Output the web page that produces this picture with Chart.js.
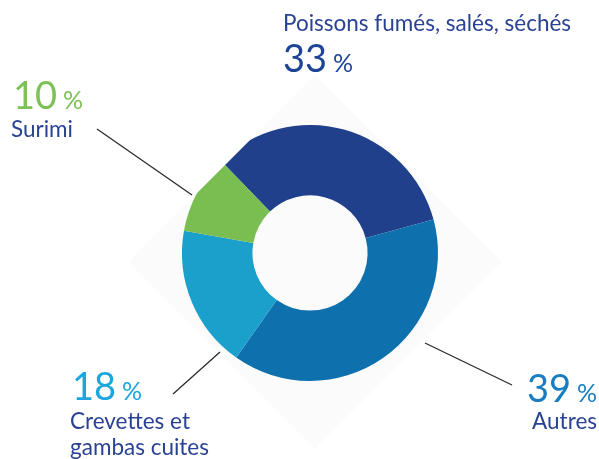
<!DOCTYPE html>
<html lang="fr">
<head>
<meta charset="utf-8">
<title>Répartition</title>
<script src="https://cdn.jsdelivr.net/npm/chart.js@4/dist/chart.umd.min.js"></script>
<style>
  html, body { margin: 0; padding: 0; background: #ffffff; }
  #wrap { position: relative; width: 599px; height: 459px; }
</style>
</head>
<body>
<div id="wrap"><canvas id="chart"></canvas></div>
<script>
// Categories and shares (%)
const categories = ['Poissons fumés, salés, séchés', 'Autres', 'Crevettes et gambas cuites', 'Surimi'];
const values = [33, 39, 18, 10];
const sliceColors = ['#21408b', '#0e70ad', '#1b9fcb', '#7abe52'];
const valueColors = ['#1d4496', '#1a7dc1', '#1ba6de', '#7dc257'];
// Category names broken into drawn lines
const nameLines = [['Poissons fumés, salés, séchés'], ['Autres'], ['Crevettes et', 'gambas cuites'], ['Surimi']];

const FONT = 'Lato, "Open Sans", sans-serif';
const NAME_COLOR = '#2a4293';

// Label blocks: anchor x, alignment, baseline of the value and of each name line
const labelLayout = [
  { x: 283, align: 'left',  valueY: 72,  nameY: [31] },
  { x: 597, align: 'right', valueY: 402, nameY: [429] },
  { x: 72,  align: 'left',  valueY: 400, nameY: [429, 455], nameX: 70 },
  { x: 13,  align: 'left',  valueY: 109, nameY: [137],      nameX: 11 }
];
// Leader lines, offsets from the doughnut centre: [x1, y1, x2, y2]
const leaders = [
  null,
  [115, 90, 202, 132],
  [-90, 99, -137, 141],
  [-118, -58, -213, -124]
];

const diamondPlugin = {
  id: 'diamond',
  beforeDatasetsDraw(chart) {
    const arc = chart.getDatasetMeta(0).data[0];
    const cx = arc.x + 5, cy = arc.y + 9, h = arc.outerRadius * 1.46;
    const ctx = chart.ctx;
    ctx.save();
    ctx.beginPath();
    ctx.moveTo(cx, cy - h);
    ctx.lineTo(cx + h, cy);
    ctx.lineTo(cx, cy + h);
    ctx.lineTo(cx - h, cy);
    ctx.closePath();
    ctx.fillStyle = '#fbfbfb';
    ctx.fill();
    ctx.clip();
  },
  afterDatasetsDraw(chart) {
    chart.ctx.restore();
  }
};

const labelPlugin = {
  id: 'labels',
  afterDraw(chart) {
    const ctx = chart.ctx;
    const arc = chart.getDatasetMeta(0).data[0];
    const cx = arc.x, cy = arc.y;
    ctx.save();
    // leader lines
    ctx.strokeStyle = '#2b2b2b';
    ctx.lineWidth = 1.3;
    leaders.forEach(l => {
      if (!l) return;
      ctx.beginPath();
      ctx.moveTo(cx + l[0], cy + l[1]);
      ctx.lineTo(cx + l[2], cy + l[3]);
      ctx.stroke();
    });
    ctx.textBaseline = 'alphabetic';
    labelLayout.forEach((L, i) => {
      // value "NN %"
      const num = String(values[i]);
      const pct = '%';
      const gap = 6;
      ctx.font = '38px ' + FONT;
      const wNum = ctx.measureText(num).width;
      ctx.font = '25px ' + FONT;
      const wPct = ctx.measureText(pct).width;
      const x0 = L.align === 'right' ? L.x - (wNum + gap + wPct) : L.x;
      ctx.textAlign = 'left';
      ctx.fillStyle = valueColors[i];
      ctx.font = '38px ' + FONT;
      ctx.fillText(num, x0, L.valueY);
      ctx.font = '25px ' + FONT;
      ctx.fillText(pct, x0 + wNum + gap, L.valueY);
      // name
      ctx.font = '22.5px ' + FONT;
      ctx.fillStyle = NAME_COLOR;
      ctx.textAlign = L.align;
      const nx = L.nameX !== undefined ? L.nameX : L.x;
      nameLines[i].forEach((t, k) => ctx.fillText(t, nx, L.nameY[k]));
    });
    ctx.restore();
  }
};

new Chart(document.getElementById('chart'), {
  type: 'doughnut',
  data: {
    labels: categories,
    datasets: [{
      data: values,
      backgroundColor: sliceColors,
      borderWidth: 0,
      hoverOffset: 0
    }]
  },
  options: {
    responsive: true,
    maintainAspectRatio: false,
    animation: false,
    rotation: -44,
    cutout: '45%',
    layout: { padding: { left: 182, right: 161, top: 125, bottom: 78 } },
    plugins: { legend: { display: false }, tooltip: { enabled: false } },
    events: []
  },
  plugins: [diamondPlugin, labelPlugin]
});
</script>
</body>
</html>
